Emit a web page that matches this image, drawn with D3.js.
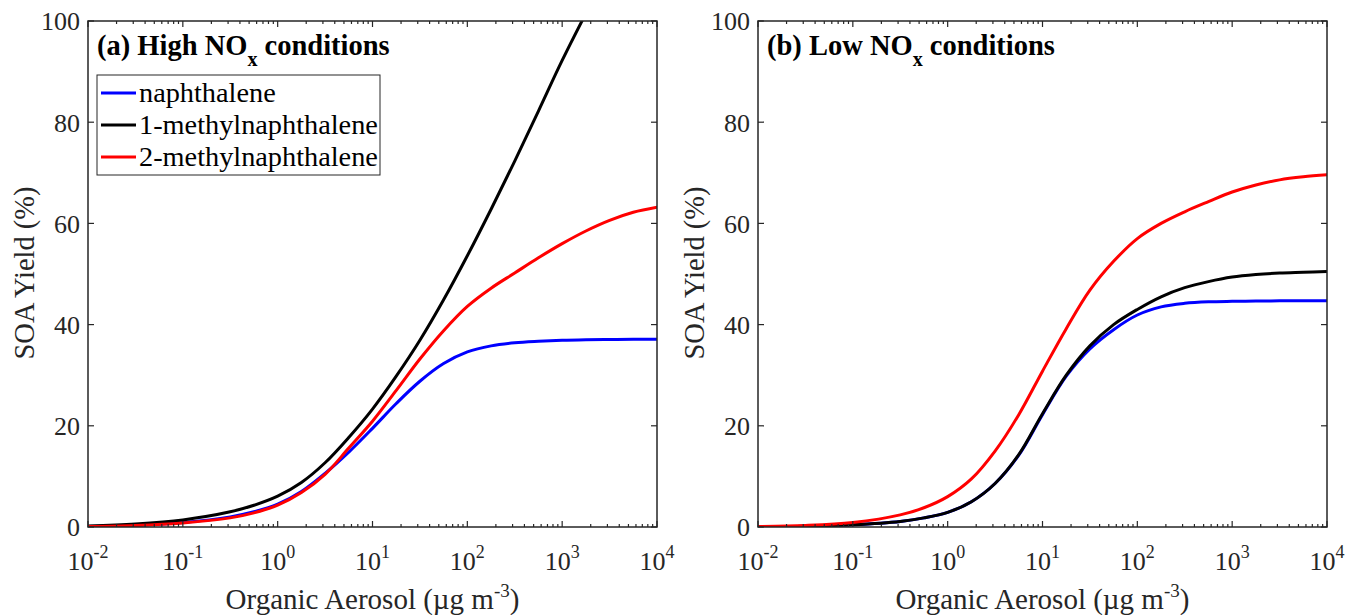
<!DOCTYPE html>
<html>
<head>
<meta charset="utf-8">
<script src="https://cdn.jsdelivr.net/npm/d3@7"></script>
<style>
  html, body { margin: 0; padding: 0; background: #fff; }
  svg { display: block; }
  text { font-family: "Liberation Serif", "Times New Roman", Times, serif; }
</style>
</head>
<body>
<svg id="chart" width="1348" height="615" font-family="Liberation Serif, Times New Roman, serif"></svg>
<script>
// ---- Data ----
// Organic aerosol mass loading (ug m-3)
const orgAerosol = [0.01, 0.0316, 0.1, 0.316, 0.562, 1, 1.78, 3.16, 5.62, 10, 17.8, 31.6, 56.2,
                    100, 178, 316, 562, 1000, 1778, 3162, 5623, 10000];

// (a) High NOx  — SOA yield (%)
const highNaphthalene = [0.1, 0.35, 0.9, 2.0, 3.0, 4.5, 7.0, 10.6, 14.8, 19.5, 24.4, 28.8, 32.3,
                         34.6, 35.8, 36.4, 36.7, 36.9, 37.0, 37.05, 37.1, 37.1];
const highMethyl1     = [0.2, 0.6, 1.4, 3.0, 4.3, 6.1, 8.8, 12.7, 17.7, 23.3, 29.8, 36.9, 44.9,
                         53.6, 62.8, 72.3, 82.2, 92.2, 101.5, 110.5, 119, 127];
const highMethyl2     = [0.1, 0.3, 0.8, 1.8, 2.8, 4.3, 6.8, 10.4, 15.6, 20.9, 27.0, 33.2, 38.8,
                         43.6, 47.2, 50.2, 53.2, 56.0, 58.5, 60.6, 62.2, 63.2];

// (b) Low NOx  — SOA yield (%)
const lowNaphthalene = [0.05, 0.15, 0.45, 1.1, 1.8, 2.9, 5.0, 8.6, 14.2, 22.2, 29.8, 35.2, 39.0,
                        41.9, 43.5, 44.2, 44.5, 44.6, 44.65, 44.7, 44.7, 44.7];
const lowMethyl1     = [0.05, 0.15, 0.45, 1.1, 1.8, 2.9, 5.0, 8.6, 14.3, 22.4, 30.0, 35.8, 40.0,
                        43.0, 45.5, 47.3, 48.5, 49.4, 49.9, 50.2, 50.35, 50.5];
const lowMethyl2     = [0.1, 0.3, 0.9, 2.4, 3.8, 6.0, 9.5, 15.0, 22.2, 30.8, 39.2, 46.8, 52.5,
                        57.0, 60.0, 62.3, 64.3, 66.2, 67.6, 68.6, 69.2, 69.6];

const seriesNames  = ["naphthalene", "1-methylnaphthalene", "2-methylnaphthalene"];
const seriesColors = ["#0000ff", "#000000", "#ff0000"];

const xTickExponents = ["-2", "-1", "0", "1", "2", "3", "4"];
const yTickValues = [0, 20, 40, 60, 80, 100];

const panels = [
  { letter: "(a) High NO", rest: " conditions", series: [highNaphthalene, highMethyl1, highMethyl2], legend: true,  x0: 88,  x1: 657 },
  { letter: "(b) Low NO",  rest: " conditions", series: [lowNaphthalene,  lowMethyl1,  lowMethyl2],  legend: false, x0: 758, x1: 1327 }
];

// ---- Drawing ----
const svg = d3.select("#chart");
const yTop = 21, yBot = 527;
const axisColor = "#262626";
const defs = svg.append("defs");

panels.forEach((p, pi) => {
  const x = d3.scaleLog().domain([1e-2, 1e4]).range([p.x0, p.x1]);
  const y = d3.scaleLinear().domain([0, 100]).range([yBot, yTop]);
  const g = svg.append("g");

  const clipId = "clip" + pi;
  defs.append("clipPath").attr("id", clipId)
    .append("rect").attr("x", p.x0).attr("y", yTop).attr("width", p.x1 - p.x0).attr("height", yBot - yTop);

  // curves
  const line = d3.line()
    .x((d, i) => x(orgAerosol[i]))
    .y(d => y(d))
    .curve(d3.curveCatmullRom.alpha(0.5));
  const lg = g.append("g").attr("clip-path", `url(#${clipId})`);
  p.series.forEach((s, si) => {
    lg.append("path").datum(s)
      .attr("d", line)
      .attr("fill", "none")
      .attr("stroke", seriesColors[si])
      .attr("stroke-width", 3)
      .attr("stroke-linejoin", "round")
      .attr("stroke-linecap", "round");
  });

  // box
  g.append("rect").attr("x", p.x0).attr("y", yTop).attr("width", p.x1 - p.x0).attr("height", yBot - yTop)
    .attr("fill", "none").attr("stroke", axisColor).attr("stroke-width", 1.5);

  // ticks
  const majors = xTickExponents.map(e => Math.pow(10, +e));
  const minors = [];
  for (let k = -2; k < 4; k++) for (let m = 2; m <= 9; m++) minors.push(m * Math.pow(10, k));
  const tg = g.append("g").attr("stroke", axisColor).attr("stroke-width", 1.2);
  majors.forEach(v => {
    tg.append("line").attr("x1", x(v)).attr("x2", x(v)).attr("y1", yBot).attr("y2", yBot - 6);
    tg.append("line").attr("x1", x(v)).attr("x2", x(v)).attr("y1", yTop).attr("y2", yTop + 6);
  });
  minors.forEach(v => {
    tg.append("line").attr("x1", x(v)).attr("x2", x(v)).attr("y1", yBot).attr("y2", yBot - 3);
    tg.append("line").attr("x1", x(v)).attr("x2", x(v)).attr("y1", yTop).attr("y2", yTop + 3);
  });
  yTickValues.forEach(v => {
    tg.append("line").attr("x1", p.x0).attr("x2", p.x0 + 6).attr("y1", y(v)).attr("y2", y(v));
    tg.append("line").attr("x1", p.x1).attr("x2", p.x1 - 6).attr("y1", y(v)).attr("y2", y(v));
  });

  // y tick labels
  yTickValues.forEach(v => {
    g.append("text").attr("x", p.x0 - 8).attr("y", y(v)).attr("dy", "0.36em")
      .attr("text-anchor", "end").attr("font-size", 26).attr("fill", axisColor).text(v);
  });

  // x tick labels 10^n
  xTickExponents.forEach(e => {
    const t = g.append("text").attr("x", x(Math.pow(10, +e))).attr("y", 570)
      .attr("text-anchor", "middle").attr("font-size", 26).attr("fill", axisColor);
    t.append("tspan").text("10");
    t.append("tspan").attr("font-size", 18).attr("dy", -12).text(e);
  });

  // x label
  const xl = g.append("text").attr("x", (p.x0 + p.x1) / 2).attr("y", 609)
    .attr("text-anchor", "middle").attr("font-size", 29).attr("fill", axisColor);
  xl.append("tspan").text("Organic Aerosol (\u00b5g m");
  xl.append("tspan").attr("font-size", 19).attr("dy", -12).text("-3");
  xl.append("tspan").attr("dy", 12).text(")");

  // y label
  g.append("text").attr("transform", `translate(${p.x0 - 54},${273}) rotate(-90)`)
    .attr("text-anchor", "middle").attr("font-size", 28.5).attr("fill", axisColor)
    .text("SOA Yield (%)");

  // panel title
  const tt = g.append("text").attr("x", p.x0 + 9).attr("y", 55)
    .attr("font-size", 28.5).attr("font-weight", "bold").attr("fill", "#000");
  tt.append("tspan").text(p.letter);
  tt.append("tspan").attr("font-size", 20).attr("dy", 11).text("x");
  tt.append("tspan").attr("dy", -11).text(p.rest);

  // legend
  if (p.legend) {
    const lgd = g.append("g");
    lgd.append("rect").attr("x", p.x0 + 9).attr("y", 75).attr("width", 283).attr("height", 100)
      .attr("fill", "#fff").attr("stroke", axisColor).attr("stroke-width", 1);
    seriesNames.forEach((n, i) => {
      const yy = 93 + i * 32;
      lgd.append("line").attr("x1", p.x0 + 13).attr("x2", p.x0 + 48).attr("y1", yy).attr("y2", yy)
        .attr("stroke", seriesColors[i]).attr("stroke-width", 3);
      lgd.append("text").attr("x", p.x0 + 51).attr("y", yy + 9)
        .attr("font-size", 28.3).attr("fill", "#000").text(n);
    });
  }
});
</script>
</body>
</html>
